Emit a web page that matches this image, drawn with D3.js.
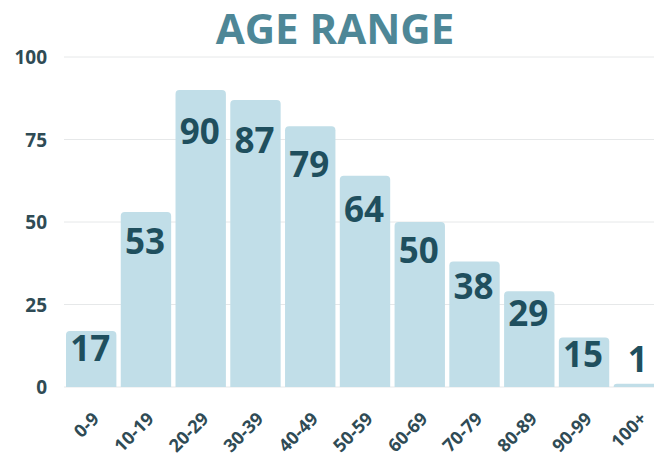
<!DOCTYPE html>
<html>
<head>
<meta charset="utf-8">
<script src="https://cdn.jsdelivr.net/npm/d3@7.9.0/dist/d3.min.js"></script>
<style>
  body { margin: 0; background: #fff; }
  text { font-family: 'Open Sans', sans-serif; font-weight: 700; }
</style>
</head>
<body>
<svg id="chart" width="654" height="459"></svg>
<script>
const ageRanges = ['0-9', '10-19', '20-29', '30-39', '40-49', '50-59', '60-69', '70-79', '80-89', '90-99', '100+'];
const counts = [17, 53, 90, 87, 79, 64, 50, 38, 29, 15, 1];
const yTicks = [0, 25, 50, 75, 100];

const svg = d3.select('#chart');
const x = d3.scaleBand().domain(ageRanges).range([66, 664]).paddingInner(0.08).paddingOuter(0);
const y = d3.scaleLinear().domain([0, 100]).range([387, 57]);

// title
svg.append('text')
  .attr('x', 335)
  .attr('y', 44)
  .attr('text-anchor', 'middle')
  .attr('fill', '#4e8797')
  .attr('font-size', 42)
  .text('AGE RANGE');

// gridlines
svg.append('g')
  .selectAll('line')
  .data(yTicks)
  .join('line')
  .attr('x1', 64)
  .attr('x2', 654)
  .attr('y1', (d) => y(d))
  .attr('y2', (d) => y(d))
  .attr('stroke', '#e6e8e9')
  .attr('stroke-width', 1);

// y tick labels
svg.append('g')
  .selectAll('text')
  .data(yTicks)
  .join('text')
  .attr('x', 47)
  .attr('y', (d) => y(d) + 7)
  .attr('text-anchor', 'end')
  .attr('fill', '#2f4b55')
  .attr('font-size', 19)
  .text((d) => d);

// bars with rounded tops
function barPath(d, i) {
  const x0 = x(ageRanges[i]);
  const w = x.bandwidth();
  const top = y(d);
  const base = y(0);
  const r = Math.min(4, base - top);
  return `M${x0},${base}V${top + r}Q${x0},${top} ${x0 + r},${top}H${x0 + w - r}Q${x0 + w},${top} ${x0 + w},${top + r}V${base}Z`;
}

svg.append('g')
  .selectAll('path')
  .data(counts)
  .join('path')
  .attr('d', barPath)
  .attr('fill', '#c1dee8');

// value labels
svg.append('g')
  .selectAll('text')
  .data(counts)
  .join('text')
  .attr('x', (d, i) => x(ageRanges[i]) + x.bandwidth() / 2 - 1)
  .attr('y', (d) => y(Math.max(0.9 * d - 7.5, 4.5)))
  .attr('text-anchor', 'middle')
  .attr('fill', '#1f4f5e')
  .attr('font-size', 35)
  .text((d) => d);

// x tick labels
svg.append('g')
  .selectAll('text')
  .data(ageRanges)
  .join('text')
  .attr('transform', (d) => `translate(${x(d) + x.bandwidth() / 2 + 9},420) rotate(-45)`)
  .attr('text-anchor', 'end')
  .attr('fill', '#2f4b55')
  .attr('font-size', 18)
  .text((d) => d);
</script>
</body>
</html>
